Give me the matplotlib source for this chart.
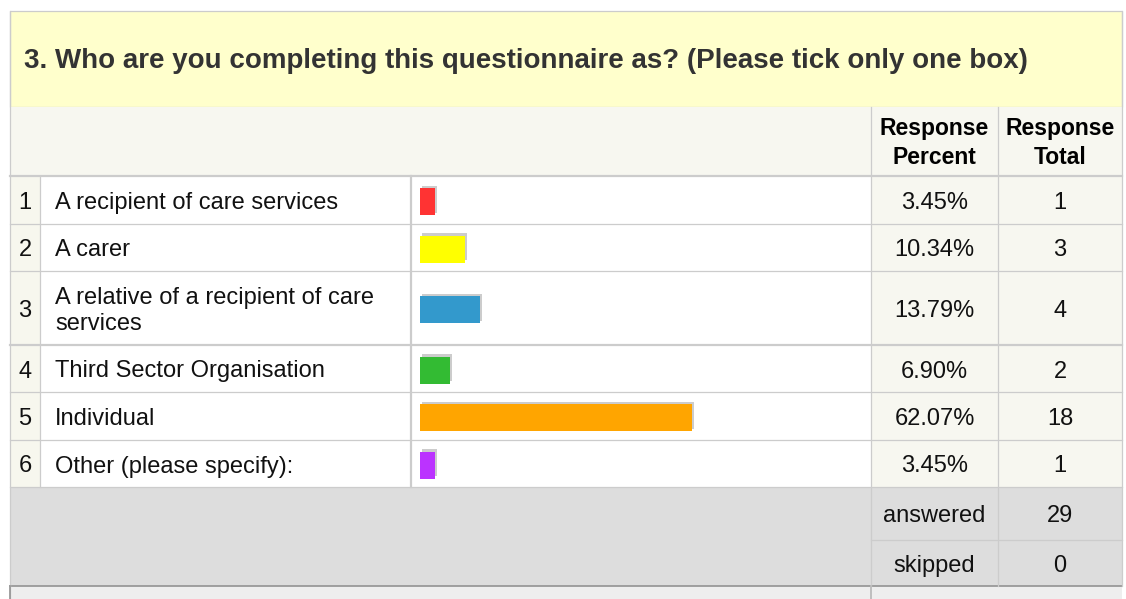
import matplotlib.pyplot as plt
from matplotlib.patches import Rectangle
import matplotlib.patheffects as pe

plt.rcParams['font.family'] = ['Liberation Sans', 'DejaVu Sans']

title = "3. Who are you completing this questionnaire as? (Please tick only one box)"
answers = ["A recipient of care services", "A carer",
           "A relative of a recipient of care\nservices",
           "Third Sector Organisation", "Individual", "Other (please specify):"]
percent = [3.45, 10.34, 13.79, 6.90, 62.07, 3.45]
totals = [1, 3, 4, 2, 18, 1]
answered = 29
skipped = 0
bar_colors = ["#ff3333", "#ffff00", "#3399cc", "#33bb33", "#ffa500", "#bb33ff"]

W, H = 1126, 599
fig = plt.figure(figsize=(W / 100, H / 100), dpi=100)
ax = fig.add_axes([0, 0, 1, 1])
ax.set_xlim(0, W)
ax.set_ylim(H, 0)
ax.axis("off")

# layout (pixels)
L, R = 10, 1122
x_num, x_lab, x_bar, x_pct, x_tot = 10, 40, 411, 871, 998
y_top, y_head = 11, 107
row_edges = [176, 224, 271, 345, 392, 440, 487]
y_ans, y_skip_top, y_bot = 487, 540, 586
line = "#cccccc"
lw = 0.9


def rect(x0, y0, x1, y1, fc, ec="none"):
    ax.add_patch(Rectangle((x0, y0), x1 - x0, y1 - y0, facecolor=fc,
                           edgecolor=ec, lw=lw, zorder=1))


rect(L, y_top, R, y_head, "#ffffcc", line)
rect(L, y_head, R, row_edges[0], "#f7f7f0")
rect(x_num, row_edges[0], x_lab, row_edges[-1], "#f7f7ee")
rect(x_lab, row_edges[0], x_pct, row_edges[-1], "white")
rect(x_pct, row_edges[0], R, row_edges[-1], "#f7f7f0")
rect(L, y_ans, R, y_bot, "#dddddd")
rect(L, y_bot, R, H + 2, "#eeeeee")

ax.text(24, 61, title, fontsize=20, fontweight="bold", color="#333333",
        va="center", ha="left")

# grid lines
for y in row_edges:
    ax.plot([L, R], [y, y], color=line, lw=lw if y not in (345, 176) else 1.6, zorder=2)
ax.plot([x_pct, R], [y_skip_top, y_skip_top], color=line, lw=lw, zorder=2)
ax.plot([L, R], [y_bot, y_bot], color="#999999", lw=1.3, zorder=2)
ax.plot([L, L], [y_top, H], color=line, lw=lw, zorder=2)
ax.plot([L, L], [y_bot, H], color="#999999", lw=1.3, zorder=2)
ax.plot([R, R], [y_top, y_bot], color=line, lw=lw, zorder=2)
ax.plot([x_lab, x_lab], [row_edges[0], row_edges[-1]], color=line, lw=lw, zorder=2)
ax.plot([x_bar, x_bar], [row_edges[0], row_edges[-1]], color=line, lw=1.6, zorder=2)
for x in (x_pct, x_tot):
    ax.plot([x, x], [y_head, y_bot], color=line, lw=lw, zorder=2)
ax.plot([x_pct, x_pct], [y_bot, H], color="#bbbbbb", lw=1.3, zorder=2)

# header
cx_pct = (x_pct + x_tot) / 2
cx_tot = (x_tot + R) / 2
ax.text(cx_pct, 143, "Response\nPercent", fontsize=16.5, fontweight="bold",
        ha="center", va="center", linespacing=1.32, color="black")
ax.text(cx_tot, 143, "Response\nTotal", fontsize=16.5, fontweight="bold",
        ha="center", va="center", linespacing=1.32, color="black")

# rows
centers = [(a + b) / 2 for a, b in zip(row_edges[:-1], row_edges[1:])]
for i, (yc, lab, p, t) in enumerate(zip(centers, answers, percent, totals)):
    ax.text(25, yc + 3, str(i + 1), fontsize=17, ha="center", va="center", color="#111111")
    ax.text(55, yc + 3, lab, fontsize=17, ha="left", va="center", color="#111111",
            linespacing=1.22)
    ax.text(cx_pct, yc + 3, f"{p:.2f}%", fontsize=17, ha="center", va="center", color="#111111")
    ax.text(cx_tot, yc + 3, str(t), fontsize=17, ha="center", va="center", color="#111111")

ax.text(cx_pct, 516, "answered", fontsize=17, ha="center", va="center", color="#111111")
ax.text(cx_tot, 516, str(answered), fontsize=17, ha="center", va="center", color="#111111")
ax.text(cx_pct, 566, "skipped", fontsize=17, ha="center", va="center", color="#111111")
ax.text(cx_tot, 566, str(skipped), fontsize=17, ha="center", va="center", color="#111111")

# bars: 0-100% mapped onto x 420..858
bx0, bx1 = 420, 858
bax = fig.add_axes([bx0 / W, 0, (bx1 - bx0) / W, 1])
bax.set_xlim(0, 100)
bax.set_ylim(H, 0)
bax.axis("off")
bars = bax.barh([c + 1.5 for c in centers], percent, height=27, color=bar_colors, zorder=3)
for b in bars:
    b.set_path_effects([pe.SimplePatchShadow(offset=(1.5, 1.5), shadow_rgbFace="#cccccc",
                                             alpha=1.0), pe.Normal()])

fig.savefig("out.png", dpi=100)
